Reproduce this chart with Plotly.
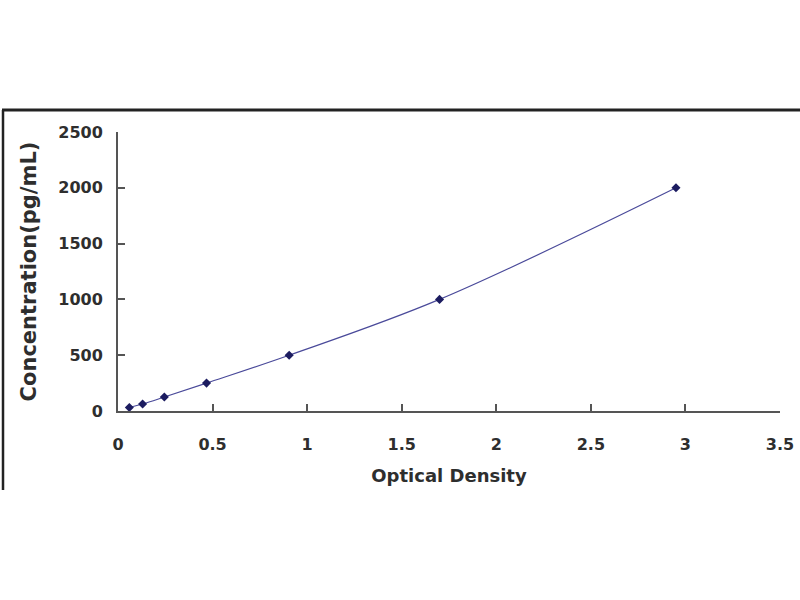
import plotly.graph_objects as go

# standard curve
od = [0.06, 0.13, 0.245, 0.468, 0.905, 1.70, 2.95]
conc = [31.25, 62.5, 125, 250, 500, 1000, 2000]

x_ticks = [0, 0.5, 1, 1.5, 2, 2.5, 3, 3.5]
x_labels = ["0", "0.5", "1", "1.5", "2", "2.5", "3", "3.5"]
y_ticks = [0, 500, 1000, 1500, 2000, 2500]
y_labels = ["0", "500", "1000", "1500", "2000", "2500"]

fnt = "DejaVu Sans"
txt_col = "#2e2e2e"
ax_col = "#555555"

fig = go.Figure()
fig.add_trace(go.Scatter(
    x=od, y=conc, mode="lines+markers",
    line=dict(color="#4a4a9a", width=1.2, shape="spline"),
    marker=dict(symbol="diamond", size=7, color="#1c1c60"),
    showlegend=False))

fig.update_xaxes(
    range=[0, 3.5], tickvals=x_ticks, ticktext=x_labels, automargin=False,
    showgrid=False, zeroline=False, showline=True, linecolor=ax_col, linewidth=2,
    ticks="inside", ticklen=7, tickwidth=2, tickcolor=ax_col,
    ticklabelstandoff=18,
    tickfont=dict(family=fnt, size=16, color=txt_col, weight="bold"),
    title=dict(text="Optical Density", standoff=16,
               font=dict(family=fnt, size=18, color=txt_col, weight="bold")))
fig.update_yaxes(
    range=[0, 2500], tickvals=y_ticks, ticktext=y_labels, automargin=False,
    showgrid=False, zeroline=False, showline=True, linecolor=ax_col, linewidth=2,
    ticks="inside", ticklen=7, tickwidth=2, tickcolor=ax_col,
    ticklabelstandoff=10,
    tickfont=dict(family=fnt, size=16, color=txt_col, weight="bold"),
    title=dict(text="Concentration(pg/mL)", standoff=16,
               font=dict(family=fnt, size=21, color=txt_col, weight="bold")))

# plot area in pixels
L, R, T, B = 118, 780, 132, 411
def px(v):
    return (v - L) / (R - L)
def py(v):
    return (B - v) / (B - T)

# outer frame (partly cropped in the source image)
fig.add_shape(type="line", xref="paper", yref="paper",
              x0=px(2), x1=px(800), y0=py(110), y1=py(110),
              line=dict(color="#222222", width=3))
fig.add_shape(type="line", xref="paper", yref="paper",
              x0=px(3), x1=px(3), y0=py(110), y1=py(490),
              line=dict(color="#222222", width=2.5))

fig.update_layout(
    width=800, height=600, autosize=False,
    margin=dict(l=L, r=800 - R, t=T, b=600 - B),
    paper_bgcolor="white", plot_bgcolor="white")

# drop the default body margin so the figure sits at the window corner
fig.write_html(
    "out.html",
    config={"displayModeBar": False, "responsive": False},
    default_width="800px", default_height="600px",
    post_script="document.body.style.margin='0';document.body.style.overflow='hidden';")
